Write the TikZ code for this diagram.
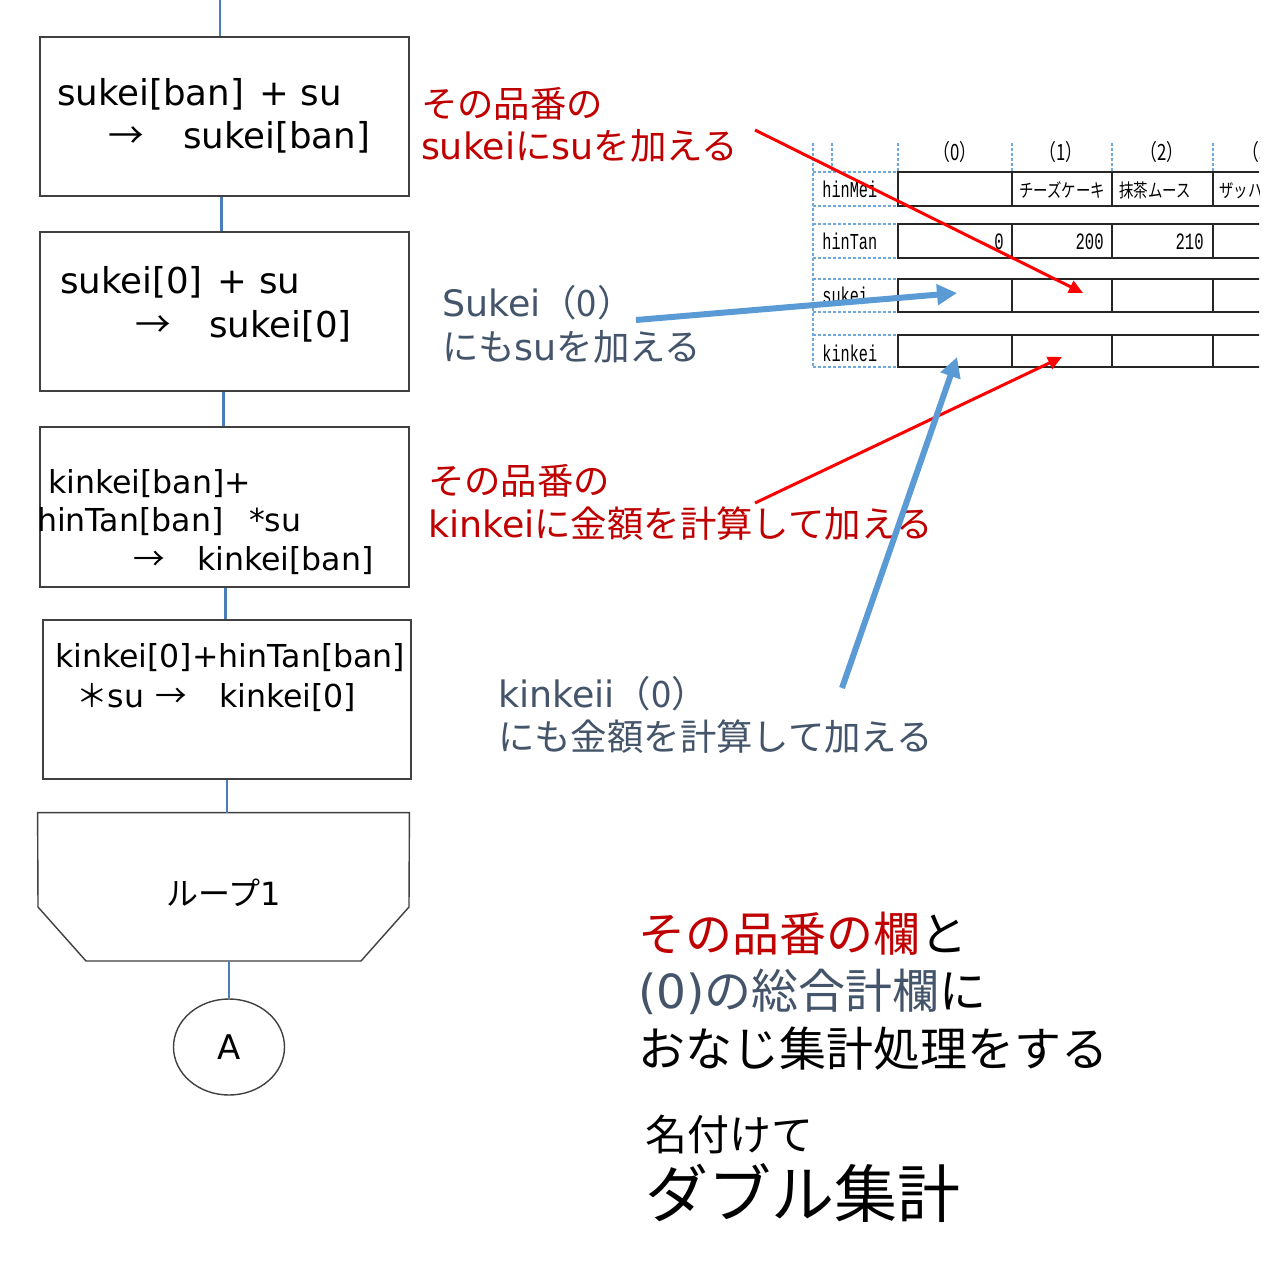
\documentclass[tikz,border=0pt]{standalone}
\usepackage{fontspec}
\setmainfont{DejaVu Sans}
\newfontfamily\jp{Noto Sans CJK JP}
\newfontfamily\tmono{Liberation Mono}
\usetikzlibrary{arrows.meta,shapes.geometric}
\newcommand\fsz[1]{\fontsize{#1}{#1}\selectfont}
\definecolor{fred}{HTML}{C00000}
\definecolor{slate}{HTML}{44546A}
\definecolor{flowblue}{HTML}{4A7EBB}
\definecolor{arrblue}{HTML}{5B9BD5}
\definecolor{boxgray}{HTML}{404040}
\definecolor{gridblue}{HTML}{6FA8DC}
\begin{document}
\begin{tikzpicture}[x=0.5pt,y=-0.5pt,
  fbox/.style={draw=boxgray,line width=0.7pt,minimum width=184.5pt,minimum height=79.5pt,inner sep=0pt,fill=white},
  txt/.style={anchor=base west,inner sep=0pt,outer sep=0pt},
  flow/.style={draw=flowblue,line width=1.4pt},
  redarr/.style={draw=red,line width=1.5pt,-{Triangle[length=7pt,width=6.5pt]}},
  bluearr/.style={draw=arrblue,line width=3pt,-{Triangle[length=10pt,width=10pt]}},
  cellbox/.style={draw=black!85,line width=0.65pt,inner sep=0pt,outer sep=0pt},
  dgrid/.style={draw=gridblue,line width=0.6pt,dash pattern=on 1.5pt off 1pt},
  tlab/.style={anchor=base west,inner sep=0pt},
  bigA/.style={font=\fsz{17}},
  anr/.style={txt,text=fred,font=\fsz{18.2}},
  ans/.style={txt,text=slate,font=\fsz{18.2}},
  bigtxt/.style={txt,font=\fsz{17.8}},
  midtxt/.style={txt,font=\fsz{15.8}}
]
\useasboundingbox (0,0) rectangle (1280,1283);
\fill[white] (0,0) rectangle (1280,1283);

% ---------- table ----------
\begin{scope}
\clip (800,135) rectangle (1259,375);
\foreach \x/\ya/\yb in {813/143/367, 832/143/172, 898/143/172, 1012/143/172, 1112/143/172, 1213/143/172}
  \draw[dgrid] (\x,\ya) -- (\x,\yb);
\foreach \y in {172,206,224,258,279,312,335,367}
  \draw[dgrid] (813,\y) -- (898,\y);
\foreach \rn/\ya/\yb in {m/172/206, t/224/258, s/279/312, k/335/367}
  \foreach \cn/\xa/\xb in {0/898/1012, 1/1012/1112, 2/1112/1213, 3/1213/1313}
    \node[cellbox,minimum width={(\xb-\xa)*0.5pt},minimum height={(\yb-\ya)*0.5pt}] (\rn\cn) at ({(\xa+\xb)/2},{(\ya+\yb)/2}) {};
\foreach \cn/\xc in {0/955, 1/1061, 2/1162, 3/1264}
  \node[anchor=base,inner sep=0pt] (h\cn) at (\xc,161) {\scalebox{1.05}[1.4]{\jp\fsz{8}（\cn）}};
\node[tlab] (lm) at (822,198) {\scalebox{1}[1.5]{\tmono\fsz{7.6}hinMei}};
\node[tlab] (lt) at (822,250) {\scalebox{1}[1.5]{\tmono\fsz{7.6}hinTan}};
\node[tlab] (ls) at (822,304) {\scalebox{1}[1.5]{\tmono\fsz{7.6}sukei}};
\node[tlab] (lk) at (822,361) {\scalebox{1}[1.5]{\tmono\fsz{7.6}kinkei}};
\node[tlab] (vm1) at (1019,198) {\scalebox{1}[1.3]{\jp\fsz{7.2}チーズケーキ}};
\node[tlab] (vm2) at (1119,198) {\scalebox{1}[1.3]{\jp\fsz{7.2}抹茶ムース}};
\node[tlab] (vm3) at (1219,198) {\scalebox{1}[1.3]{\jp\fsz{7.2}ザッハトルテ}};
\node[anchor=base east,inner sep=0pt] (vt0) at (1004,250) {\scalebox{1}[1.5]{\tmono\fsz{7.8}0}};
\node[anchor=base east,inner sep=0pt] (vt1) at (1104,250) {\scalebox{1}[1.5]{\tmono\fsz{7.8}200}};
\node[anchor=base east,inner sep=0pt] (vt2) at (1204,250) {\scalebox{1}[1.5]{\tmono\fsz{7.8}210}};
\end{scope}

% ---------- flowchart ----------
\node[fbox] (b1) at (224.5,116.5) {};
\node[fbox] (b2) at (224.5,311.5) {};
\node[fbox,minimum height=80pt] (b3) at (224.5,507) {};
\node[fbox,minimum width=184pt] (b4) at (227,699.5) {};
\node[minimum width=185.5pt,minimum height=74pt,inner sep=0pt] (loop) at (223.5,887) {};
\draw[draw=boxgray,line width=0.7pt,fill=white] (loop.north west) -- (loop.north east) -- (409,907) -- (361,961) -- (86,961) -- (38,907) -- cycle;
\node[txt,font=\fsz{16}] (looptxt) at (166,905) {{\jp ループ}1};
\node[ellipse,draw=boxgray,line width=0.7pt,minimum width=55.5pt,minimum height=48pt,inner sep=0pt,bigA] (A) at (229,1047) {A};

\coordinate (top) at (220,0);
\draw[flow] (top) -- (top |- b1.north);
\draw[flow] ([xshift=-1.5pt]b1.south) -- ([xshift=-1.5pt]b2.north);
\draw[flow] ([xshift=-0.5pt]b2.south) -- ([xshift=-0.5pt]b3.north);
\draw[flow] ([xshift=0.5pt]b3.south) -- ([xshift=-0.75pt]b4.north);
\draw[flow] (b4.south) -- (b4.south |- loop.north);
\draw[flow] (loop.south -| A.north) -- (A.north);

% box texts
\node[bigtxt] (t1a) at (57,106) {sukei[ban]\hspace{2pt} + su};
\node[bigtxt] (t1b) at (108,149) {\jp →};
\node[bigtxt] (t1c) at (183,149) {sukei[ban]};
\node[bigtxt] (t2a) at (60,293) {sukei[0]\hspace{2pt} + su};
\node[bigtxt] (t2b) at (135,337) {\jp →};
\node[bigtxt] (t2c) at (209,337) {sukei[0]};
\node[midtxt] (t3a) at (48,493) {kinkei[ban]+};
\node[midtxt] (t3b) at (37,531) {hinTan[ban]};
\node[midtxt] (t3c) at (249,531) {*su};
\node[midtxt] (t3d) at (133,570) {\jp →};
\node[midtxt] (t3e) at (197,570) {kinkei[ban]};
\node[midtxt] (t4a) at (55,667) {kinkei[0]+hinTan[ban]};
\node[midtxt] (t4b) at (76,707) {{\jp ＊}su};
\node[midtxt] (t4c) at (155,707) {\jp →};
\node[midtxt] (t4d) at (219,707) {kinkei[0]};

% ---------- annotations ----------
\node[anr] (a1a) at (421,118) {\jp その品番の};
\node[anr] (a1b) at (421,160) {sukei{\jp に}su{\jp を加える}};
\node[ans] (a2a) at (442,316) {Sukei{\jp （0）}};
\node[ans] (a2b) at (442,360) {{\jp にも}su{\jp を加える}};
\node[anr] (a3a) at (428,494) {\jp その品番の};
\node[anr] (a3b) at (428,537) {kinkei{\jp に金額を計算して加える}};
\node[ans] (a4a) at (498,707) {kinkeii{\jp （0）}};
\node[ans] (a4b) at (498,750) {\jp にも金額を計算して加える};

\node[txt,font=\fsz{23.5}] (c1) at (638,951) {{\jp\color{fred}その品番の欄}{\jp と}};
\node[txt,font=\fsz{23.5}] (c2) at (638,1008) {{\color{slate}(0){\jp の総合計欄}}{\jp に}};
\node[txt,font=\fsz{23.5}] (c3) at (638,1066) {\jp おなじ集計処理をする};
\node[txt,font=\fsz{21}] (n1) at (645,1150) {\jp 名付けて};
\node[txt,font=\fsz{31.5}] (n2) at (645,1217) {\jp ダブル集計};

% ---------- arrows ----------
\coordinate (r1s) at (755,130);
\coordinate (b1s) at (636,320);
\coordinate (r2s) at (755,503);
\coordinate (b2s) at (842,688);
\draw[redarr] (r1s) -- ([xshift=10.5pt,yshift=1.25pt]s1.center);
\draw[bluearr] (b1s) -- ([xshift=1pt,yshift=1.25pt]s0.center);
\draw[redarr] (r2s) -- ([yshift=-3pt]k1.center);
\draw[bluearr] (b2s) -- ([xshift=1pt,yshift=-3pt]k0.center);
\end{tikzpicture}
\end{document}
